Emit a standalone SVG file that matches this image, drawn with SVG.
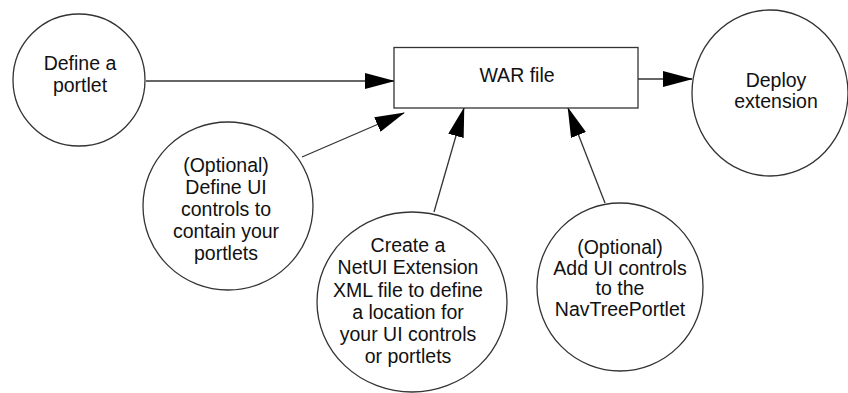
<svg xmlns="http://www.w3.org/2000/svg" width="848" height="393" viewBox="0 0 848 393">
<style>
.node{fill:#fff;stroke:#333;stroke-width:1.3}
.lbl{font-family:"Liberation Sans",Arial,sans-serif;font-size:19.5px;fill:#111;text-anchor:middle}
.edge{stroke:#333;stroke-width:1.3;fill:none;marker-end:url(#ah)}
</style>
<defs>
<marker id="ah" markerUnits="userSpaceOnUse" markerWidth="30" markerHeight="16" refX="29" refY="8" orient="auto">
<path d="M0,0 L30,8 L0,16 z" fill="#000"/>
</marker>
</defs>
<rect width="848" height="393" fill="#fff"/>
<g id="connectors">
<line class="edge" x1="146" y1="81" x2="394" y2="81"/>
<line class="edge" x1="638" y1="79" x2="692" y2="79"/>
<line class="edge" x1="302" y1="157" x2="404" y2="113"/>
<line class="edge" x1="434" y1="212" x2="464" y2="108"/>
<line class="edge" x1="605" y1="203" x2="568" y2="108"/>
</g>
<g id="define-portlet">
<ellipse class="node" cx="79" cy="80" rx="66" ry="66"/>
<text class="lbl" x="80" y="70">Define a</text>
<text class="lbl" x="80" y="92">portlet</text>
</g>
<g id="war-file">
<rect class="node" x="394" y="47.5" width="244" height="60.5"/>
<text class="lbl" x="517" y="82">WAR file</text>
</g>
<g id="deploy-extension">
<ellipse class="node" cx="770" cy="93" rx="78" ry="83"/>
<text class="lbl" x="776" y="87">Deploy</text>
<text class="lbl" x="776" y="108">extension</text>
</g>
<g id="define-ui-controls">
<ellipse class="node" cx="228" cy="206" rx="85" ry="84"/>
<text class="lbl" x="226" y="172">(Optional)</text>
<text class="lbl" x="226" y="194">Define UI</text>
<text class="lbl" x="226" y="216">controls to</text>
<text class="lbl" x="226" y="238">contain your</text>
<text class="lbl" x="226" y="260">portlets</text>
</g>
<g id="create-netui-xml">
<ellipse class="node" cx="412" cy="302" rx="95" ry="90"/>
<text class="lbl" x="408" y="252">Create a</text>
<text class="lbl" x="408" y="274">NetUI Extension</text>
<text class="lbl" x="408" y="297">XML file to define</text>
<text class="lbl" x="408" y="319">a location for</text>
<text class="lbl" x="408" y="341">your UI controls</text>
<text class="lbl" x="408" y="363">or portlets</text>
</g>
<g id="add-ui-controls">
<ellipse class="node" cx="620" cy="287" rx="83" ry="84"/>
<text class="lbl" x="620" y="254">(Optional)</text>
<text class="lbl" x="620" y="275">Add UI controls</text>
<text class="lbl" x="620" y="295">to the</text>
<text class="lbl" x="620" y="316">NavTreePortlet</text>
</g>
</svg>
